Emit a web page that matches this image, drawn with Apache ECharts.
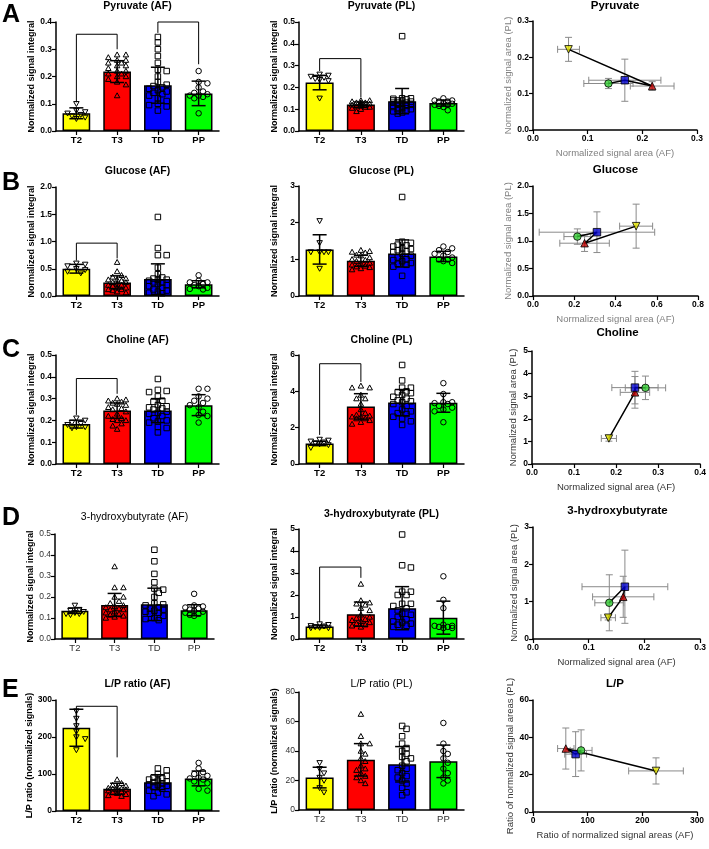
<!DOCTYPE html>
<html>
<head>
<meta charset="utf-8">
<script src="https://cdn.jsdelivr.net/npm/echarts@6/dist/echarts.min.js"></script>
<style>
html, body { margin: 0; padding: 0; background: #fff; }
#main { width: 709px; height: 849px; }
</style>
</head>
<body>
<div id="main"></div>
<script>
const groups = ['T2', 'T3', 'TD', 'PP'];
const barColors = ['#ffff00', '#ff0000', '#0000ff', '#00ff00'];
const markerColors = ['#e6e600', '#c00000', '#0000cc', '#33cc33'];

// Pyruvate
const pyruvateAF = [
    [0.10, 0.075, 0.07, 0.065, 0.06, 0.055, 0.05, 0.045],
    [0.28, 0.28, 0.27, 0.26, 0.26, 0.25, 0.25, 0.24, 0.24, 0.23, 0.22, 0.22, 0.21, 0.21, 0.20, 0.20, 0.19, 0.18, 0.17, 0.13],
    [0.345, 0.325, 0.30, 0.275, 0.25, 0.225, 0.22, 0.20, 0.18, 0.17, 0.165, 0.16, 0.155, 0.15, 0.145, 0.14, 0.135, 0.13, 0.12, 0.11, 0.10, 0.095, 0.09, 0.075],
    [0.22, 0.18, 0.175, 0.16, 0.145, 0.14, 0.135, 0.13, 0.13, 0.125, 0.12, 0.065]
];
const pyruvateAFMean = [0.065, 0.218, 0.168, 0.138];
const pyruvateAFSd = [0.02, 0.04, 0.066, 0.045];
const pyruvateAFBrackets = [[0, 1, 0.355, 0.105, 0.30], [2, 3, 0.40, 0.36, 0.245]];

const pyruvatePL = [
    [0.26, 0.255, 0.25, 0.245, 0.24, 0.235, 0.23, 0.15],
    [0.14, 0.14, 0.135, 0.13, 0.13, 0.125, 0.125, 0.12, 0.12, 0.115, 0.115, 0.11, 0.11, 0.105, 0.10, 0.09, 0.12, 0.13],
    [0.435, 0.15, 0.15, 0.148, 0.145, 0.14, 0.14, 0.135, 0.13, 0.13, 0.125, 0.12, 0.12, 0.115, 0.11, 0.105, 0.10, 0.10, 0.095, 0.09, 0.085, 0.08, 0.13, 0.14],
    [0.15, 0.14, 0.14, 0.135, 0.135, 0.13, 0.125, 0.12, 0.12, 0.115, 0.11, 0.095]
];
const pyruvatePLMean = [0.222, 0.121, 0.137, 0.128];
const pyruvatePLSd = [0.033, 0.012, 0.058, 0.014];
const pyruvatePLBrackets = [[0, 1, 0.332, 0.275, 0.155]];

// Glucose
const glucoseAF = [
    [0.60, 0.58, 0.55, 0.50, 0.48, 0.45, 0.42],
    [0.62, 0.45, 0.38, 0.35, 0.32, 0.30, 0.30, 0.28, 0.25, 0.25, 0.22, 0.20, 0.20, 0.18, 0.15, 0.15, 0.12, 0.12, 0.10, 0.08, 0.06],
    [1.45, 0.88, 0.75, 0.75, 0.52, 0.40, 0.34, 0.32, 0.30, 0.30, 0.28, 0.25, 0.25, 0.22, 0.20, 0.18, 0.15, 0.12, 0.10, 0.08, 0.06, 0.05],
    [0.38, 0.28, 0.25, 0.25, 0.22, 0.20, 0.18, 0.15, 0.13, 0.12]
];
const glucoseAFMean = [0.50, 0.25, 0.31, 0.215];
const glucoseAFSd = [0.08, 0.12, 0.28, 0.065];
const glucoseAFBrackets = [[0, 1, 0.97, 0.65, 0.69]];

const glucosePL = [
    [2.05, 1.45, 1.20, 1.20, 1.20, 1.20, 0.75],
    [1.25, 1.22, 1.20, 1.18, 1.12, 1.10, 1.05, 1.00, 0.98, 0.95, 0.90, 0.88, 0.85, 0.82, 0.80, 0.78, 0.75, 0.72],
    [2.70, 1.48, 1.45, 1.40, 1.38, 1.35, 1.30, 1.28, 1.25, 1.22, 1.20, 1.15, 1.10, 1.05, 1.00, 0.98, 0.95, 0.90, 0.88, 0.85, 0.80, 0.55],
    [1.35, 1.30, 1.25, 1.20, 1.15, 1.10, 1.05, 1.00, 1.00, 0.95, 0.90]
];
const glucosePLMean = [1.27, 0.96, 1.16, 1.08];
const glucosePLSd = [0.40, 0.15, 0.37, 0.14];

// Choline
const cholineAF = [
    [0.21, 0.20, 0.19, 0.185, 0.18, 0.17, 0.17, 0.165],
    [0.30, 0.295, 0.29, 0.285, 0.28, 0.275, 0.27, 0.26, 0.255, 0.25, 0.24, 0.23, 0.22, 0.21, 0.205, 0.20, 0.20, 0.185, 0.175, 0.16],
    [0.39, 0.34, 0.335, 0.33, 0.31, 0.29, 0.285, 0.27, 0.265, 0.26, 0.255, 0.25, 0.24, 0.235, 0.23, 0.22, 0.21, 0.20, 0.195, 0.19, 0.17, 0.165, 0.145],
    [0.345, 0.345, 0.31, 0.30, 0.29, 0.28, 0.27, 0.26, 0.24, 0.225, 0.22, 0.19]
];
const cholineAFMean = [0.183, 0.245, 0.245, 0.27];
const cholineAFSd = [0.018, 0.035, 0.055, 0.048];
const cholineAFBrackets = [[0, 1, 0.392, 0.225, 0.322]];

const cholinePL = [
    [1.35, 1.30, 1.25, 1.20, 1.15, 1.10, 1.05, 0.90],
    [4.30, 4.20, 4.20, 3.80, 3.60, 3.60, 3.30, 3.00, 2.80, 2.70, 2.65, 2.60, 2.60, 2.50, 2.50, 2.40, 2.30, 2.20],
    [5.45, 4.60, 4.20, 4.20, 4.00, 3.95, 3.90, 3.80, 3.70, 3.60, 3.50, 3.45, 3.40, 3.30, 3.20, 3.00, 2.90, 2.80, 2.75, 2.60, 2.50, 2.35, 2.15],
    [4.45, 3.85, 3.40, 3.40, 3.35, 3.30, 3.20, 3.10, 3.00, 2.90, 2.30]
];
const cholinePLMean = [1.13, 3.17, 3.38, 3.37];
const cholinePLSd = [0.12, 0.70, 0.72, 0.52];
const cholinePLBrackets = [[0, 1, 5.52, 1.6, 4.52]];

// 3-hydroxybutyrate
const hbAF = [
    [0.16, 0.14, 0.135, 0.13, 0.125, 0.12, 0.12, 0.115],
    [0.345, 0.245, 0.245, 0.20, 0.20, 0.18, 0.17, 0.16, 0.155, 0.15, 0.145, 0.14, 0.14, 0.13, 0.125, 0.12, 0.115, 0.11, 0.105, 0.10],
    [0.425, 0.37, 0.31, 0.27, 0.24, 0.235, 0.22, 0.20, 0.17, 0.165, 0.16, 0.15, 0.145, 0.14, 0.135, 0.13, 0.125, 0.12, 0.11, 0.10, 0.095, 0.09],
    [0.215, 0.16, 0.155, 0.15, 0.145, 0.14, 0.135, 0.13, 0.125, 0.12, 0.115, 0.11]
];
const hbAFMean = [0.135, 0.162, 0.165, 0.137];
const hbAFSd = [0.013, 0.055, 0.077, 0.026];

const hbPL = [
    [0.68, 0.65, 0.60, 0.58, 0.55, 0.52, 0.50, 0.50],
    [2.50, 1.75, 1.65, 1.60, 1.55, 1.40, 1.30, 1.10, 1.00, 0.95, 0.90, 0.85, 0.80, 0.75, 0.70, 0.65, 0.60, 0.55],
    [4.75, 3.35, 3.25, 2.15, 2.15, 2.00, 2.00, 1.60, 1.60, 1.50, 1.40, 1.30, 1.15, 1.10, 1.00, 0.90, 0.80, 0.75, 0.70, 0.65, 0.60, 0.55],
    [2.85, 1.78, 1.40, 0.65, 0.60, 0.60, 0.55, 0.55, 0.50, 0.50]
];
const hbPLMean = [0.57, 1.13, 1.40, 0.97];
const hbPLSd = [0.06, 0.55, 0.98, 0.75];
const hbPLBrackets = [[0, 1, 3.27, 0.77, 2.78]];

// L/P ratio
const lpAF = [
    [270, 250, 230, 215, 200, 195, 165],
    [85, 75, 70, 68, 65, 62, 60, 60, 58, 58, 55, 52, 50, 48, 45, 42, 40],
    [115, 110, 100, 95, 90, 88, 85, 82, 80, 78, 75, 72, 70, 68, 65, 60, 55, 50, 45, 40],
    [130, 115, 105, 100, 95, 90, 88, 85, 80, 75, 60, 55]
];
const lpAFMean = [225, 60, 78, 88];
const lpAFSd = [50, 15, 20, 20];
const lpAFBrackets = [[0, 1, 283, 276, 145]];

const lpPL = [
    [32, 28, 25, 22, 20, 15, 12],
    [65, 50, 45, 45, 40, 38, 35, 33, 30, 28, 27, 25, 23, 22, 20, 18],
    [57, 55, 50, 45, 42, 40, 38, 36, 35, 33, 30, 28, 27, 25, 23, 22, 20, 18, 15, 12, 10],
    [59, 45, 40, 38, 35, 32, 28, 25, 22, 20, 18]
];
const lpPLMean = [22, 34, 31, 33];
const lpPLSd = [7, 11, 12, 11];

const FONT = '"Liberation Sans", Arial, sans-serif';
const DOT = 5.5;

const chart = echarts.init(document.getElementById('main'));
const grids = [], xAxes = [], yAxes = [], series = [], graphics = [];

function symbolShape(kind, x, y, s, stroke, fill, lw) {
    const h = s / 2;
    const style = { fill: fill, stroke: stroke, lineWidth: lw };
    if (kind === 0) return { type: 'polygon', shape: { points: [[x - h, y - h * 0.8], [x + h, y - h * 0.8], [x, y + h]] }, style };
    if (kind === 1) return { type: 'polygon', shape: { points: [[x - h, y + h * 0.8], [x + h, y + h * 0.8], [x, y - h]] }, style };
    if (kind === 2) return { type: 'rect', shape: { x: x - h, y: y - h, width: s, height: s }, style };
    return { type: 'circle', shape: { cx: x, cy: y, r: h }, style };
}

// spread points sideways inside the bar, overlapping when there is no room
function swarm(ys, size, maxOff) {
    const step = size * 0.8;
    const cands = [0];
    for (let i = 1; i * step <= maxOff; i++) cands.push(i * step, -i * step);
    const placed = [];
    return ys.map(y => {
        let best = 0, bestScore = -1;
        for (const cand of cands) {
            let minD = Infinity;
            placed.forEach(p => {
                const d = Math.hypot(p[0] - cand, p[1] - y);
                if (d < minD) minD = d;
            });
            if (minD >= size * 0.95) { best = cand; break; }
            if (minD > bestScore) { bestScore = minD; best = cand; }
        }
        placed.push([best, y]);
        return best;
    });
}

function text(x, y, str, font, color) {
    graphics.push({
        type: 'text', x: x, y: y, silent: true,
        style: { text: str, font: font, fill: color || '#000', align: 'center', verticalAlign: 'middle' }
    });
}

function axisStyle(bold, color) {
    return {
        axisLine: { show: true, lineStyle: { color: '#000', width: 1.5 } },
        axisTick: { show: true, length: 4, lineStyle: { color: '#000', width: 1.2 } },
        splitLine: { show: false },
        axisLabel: { color: color, fontFamily: FONT, fontSize: 8.5, fontWeight: bold ? 'bold' : 'normal', margin: 4 }
    };
}

function barPanel(cfg) {
    const gi = grids.length;
    const [left, top, width, height] = cfg.pos;
    const bold = cfg.bold !== false;
    const labColor = bold ? '#000' : '#333';
    grids.push({ left: left, top: top, width: width, height: height });
    const xs = axisStyle(bold, labColor);
    xs.axisTick.alignWithLabel = true;
    xs.axisLabel.fontSize = 9.5;
    xAxes.push(Object.assign({ type: 'category', gridIndex: gi, data: groups }, xs));
    yAxes.push(Object.assign({
        type: 'value', gridIndex: gi, min: 0, max: cfg.max, interval: cfg.interval,
        name: cfg.yName, nameLocation: 'middle', nameGap: 20,
        nameTextStyle: { fontFamily: FONT, fontSize: 9, fontWeight: 'bold', color: '#000' }
    }, axisStyle(bold, labColor)));
    yAxes[gi].axisLabel.formatter = v => v.toFixed(cfg.dec);

    series.push({
        type: 'bar', xAxisIndex: gi, yAxisIndex: gi, silent: true, z: 1, barWidth: '68%',
        data: cfg.mean.map((v, i) => ({ value: v, itemStyle: { color: barColors[i] } })),
        itemStyle: { borderColor: '#000', borderWidth: 1.5 }
    });

    const pts = cfg.points;
    const dotData = [];
    pts.forEach((arr, c) => arr.forEach((v, k) => dotData.push([c, v, k])));
    series.push({
        type: 'custom', xAxisIndex: gi, yAxisIndex: gi, silent: true, z: 2, clip: false,
        data: dotData,
        renderItem: (params, api) => {
            const c = api.value(0), k = api.value(2);
            const ys = pts[c].map(v => api.coord([c, v])[1]);
            const offs = swarm(ys, DOT, 12);
            const p = api.coord([c, api.value(1)]);
            return symbolShape(c, p[0] + offs[k], p[1], DOT, '#000', 'rgba(0,0,0,0)', 1);
        }
    });

    series.push({
        type: 'custom', xAxisIndex: gi, yAxisIndex: gi, silent: true, z: 3, clip: false,
        data: cfg.mean.map((m, i) => [i, m, cfg.sd[i]]),
        renderItem: (params, api) => {
            const c = api.value(0), m = api.value(1), s = api.value(2);
            const t = api.coord([c, m + s]), b = api.coord([c, m - s]);
            const w = 7, st = { stroke: '#000', lineWidth: 1.5 };
            return {
                type: 'group', children: [
                    { type: 'line', shape: { x1: t[0], y1: t[1], x2: b[0], y2: b[1] }, style: st },
                    { type: 'line', shape: { x1: t[0] - w, y1: t[1], x2: t[0] + w, y2: t[1] }, style: st },
                    { type: 'line', shape: { x1: b[0] - w, y1: b[1], x2: b[0] + w, y2: b[1] }, style: st }
                ]
            };
        }
    });

    if (cfg.brackets) {
        series.push({
            type: 'custom', xAxisIndex: gi, yAxisIndex: gi, silent: true, z: 3, clip: false,
            data: cfg.brackets,
            renderItem: (params, api) => {
                const c1 = api.value(0), c2 = api.value(1), t = api.value(2);
                const a = api.coord([c1, api.value(3)]), b = api.coord([c1, t]);
                const c = api.coord([c2, t]), d = api.coord([c2, api.value(4)]);
                return { type: 'polyline', shape: { points: [a, b, c, d] }, style: { stroke: '#000', lineWidth: 1, fill: null } };
            }
        });
    }

    text(left + width / 2, cfg.titleY, cfg.title, (cfg.titleBold === false ? '' : 'bold ') + '10.5px ' + FONT);
}

function xyPanel(cfg) {
    const gi = grids.length;
    const [left, top, width, height] = cfg.pos;
    grids.push({ left: left, top: top, width: width, height: height });
    const nameStyle = { fontFamily: FONT, fontSize: 9.5, color: cfg.nameColor || '#808080' };
    xAxes.push(Object.assign({
        type: 'value', gridIndex: gi, min: 0, max: cfg.xMax, interval: cfg.xInt,
        name: cfg.xName, nameLocation: 'middle', nameGap: 18, nameTextStyle: nameStyle
    }, axisStyle(true, '#000')));
    xAxes[gi].axisLabel.formatter = v => v.toFixed(cfg.xDec);
    yAxes.push(Object.assign({
        type: 'value', gridIndex: gi, min: 0, max: cfg.yMax, interval: cfg.yInt,
        name: cfg.yName, nameLocation: 'middle', nameGap: 14, nameTextStyle: nameStyle
    }, axisStyle(true, '#000')));
    yAxes[gi].axisLabel.formatter = v => v.toFixed(cfg.yDec);

    const pts = groups.map((g, i) => [cfg.xMean[i], cfg.yMean[i], cfg.xSd[i], cfg.ySd[i]]);
    series.push({
        type: 'custom', xAxisIndex: gi, yAxisIndex: gi, silent: true, z: 2, clip: false,
        data: pts,
        renderItem: (params, api) => {
            const x = api.value(0), y = api.value(1), sx = api.value(2), sy = api.value(3);
            const l = api.coord([x - sx, y]), r = api.coord([x + sx, y]);
            const t = api.coord([x, y + sy]), b = api.coord([x, y - sy]);
            const w = 3.5, st = { stroke: '#8a8a8a', lineWidth: 1 };
            return {
                type: 'group', children: [
                    { type: 'line', shape: { x1: l[0], y1: l[1], x2: r[0], y2: r[1] }, style: st },
                    { type: 'line', shape: { x1: l[0], y1: l[1] - w, x2: l[0], y2: l[1] + w }, style: st },
                    { type: 'line', shape: { x1: r[0], y1: r[1] - w, x2: r[0], y2: r[1] + w }, style: st },
                    { type: 'line', shape: { x1: t[0], y1: t[1], x2: b[0], y2: b[1] }, style: st },
                    { type: 'line', shape: { x1: t[0] - w, y1: t[1], x2: t[0] + w, y2: t[1] }, style: st },
                    { type: 'line', shape: { x1: b[0] - w, y1: b[1], x2: b[0] + w, y2: b[1] }, style: st }
                ]
            };
        }
    });
    series.push({
        type: 'line', xAxisIndex: gi, yAxisIndex: gi, silent: true, z: 3, symbol: 'none',
        data: pts.map(p => [p[0], p[1]]),
        lineStyle: { color: '#000', width: 1.5 }
    });
    const syms = ['triangle', 'triangle', 'rect', 'circle'];
    series.push({
        type: 'scatter', xAxisIndex: gi, yAxisIndex: gi, silent: true, z: 4, symbolSize: 7.5,
        data: pts.map((p, i) => ({
            value: [p[0], p[1]], symbol: syms[i], symbolRotate: i === 0 ? 180 : 0,
            itemStyle: { color: markerColors[i], borderColor: '#000', borderWidth: 1 }
        }))
    });

    text(left + width / 2, cfg.titleY, cfg.title, 'bold 11.5px ' + FONT);
}

const yNameBar = 'Normalized signal integral';
const xNameXY = 'Normalized signal area (AF)';
const yNameXY = 'Normalized signal area (PL)';

// Row A
barPanel({ pos: [56, 22, 163, 109], title: 'Pyruvate (AF)', titleY: 6, yName: yNameBar, max: 0.4, interval: 0.1, dec: 1,
    points: pyruvateAF, mean: pyruvateAFMean, sd: pyruvateAFSd, brackets: pyruvateAFBrackets });
barPanel({ pos: [299, 22, 165, 109], title: 'Pyruvate (PL)', titleY: 6, yName: yNameBar, max: 0.5, interval: 0.1, dec: 1,
    points: pyruvatePL, mean: pyruvatePLMean, sd: pyruvatePLSd, brackets: pyruvatePLBrackets });
xyPanel({ pos: [533, 21, 164, 109], title: 'Pyruvate', titleY: 6, xName: xNameXY, yName: yNameXY,
    xMax: 0.3, xInt: 0.1, xDec: 1, yMax: 0.3, yInt: 0.1, yDec: 1,
    xMean: pyruvateAFMean, xSd: pyruvateAFSd, yMean: pyruvatePLMean, ySd: pyruvatePLSd });

// Row B
barPanel({ pos: [56, 187, 163, 109], title: 'Glucose (AF)', titleY: 171, yName: yNameBar, max: 2.0, interval: 0.5, dec: 1,
    points: glucoseAF, mean: glucoseAFMean, sd: glucoseAFSd, brackets: glucoseAFBrackets });
barPanel({ pos: [299, 186, 165, 110], title: 'Glucose (PL)', titleY: 171, yName: yNameBar, max: 3, interval: 1, dec: 0,
    points: glucosePL, mean: glucosePLMean, sd: glucosePLSd });
xyPanel({ pos: [533, 186, 165, 110], title: 'Glucose', titleY: 170, xName: xNameXY, yName: yNameXY,
    xMax: 0.8, xInt: 0.2, xDec: 1, yMax: 2.0, yInt: 0.5, yDec: 1,
    xMean: glucoseAFMean, xSd: glucoseAFSd, yMean: glucosePLMean, ySd: glucosePLSd });

// Row C
barPanel({ pos: [56, 355, 163, 109], title: 'Choline (AF)', titleY: 340, yName: yNameBar, max: 0.5, interval: 0.1, dec: 1,
    points: cholineAF, mean: cholineAFMean, sd: cholineAFSd, brackets: cholineAFBrackets });
barPanel({ pos: [299, 355, 165, 109], title: 'Choline (PL)', titleY: 340, yName: yNameBar, max: 6, interval: 2, dec: 0,
    points: cholinePL, mean: cholinePLMean, sd: cholinePLSd, brackets: cholinePLBrackets });
xyPanel({ pos: [532, 351, 171, 113], title: 'Choline', titleY: 333, xName: xNameXY, yName: yNameXY, nameColor: '#333',
    xMax: 0.4, xInt: 0.1, xDec: 1, yMax: 5, yInt: 1, yDec: 0,
    xMean: cholineAFMean, xSd: cholineAFSd, yMean: cholinePLMean, ySd: cholinePLSd });

// Row D
barPanel({ pos: [55, 534, 159, 105], title: '3-hydroxybutyrate (AF)', titleY: 517, yName: yNameBar, max: 0.5, interval: 0.1, dec: 1,
    bold: false, titleBold: false, points: hbAF, mean: hbAFMean, sd: hbAFSd });
barPanel({ pos: [299, 529, 165, 110], title: '3-hydroxybutyrate (PL)', titleY: 514, yName: yNameBar, max: 5, interval: 1, dec: 0,
    points: hbPL, mean: hbPLMean, sd: hbPLSd, brackets: hbPLBrackets });
xyPanel({ pos: [533, 527, 169, 112], title: '3-hydroxybutyrate', titleY: 511, xName: xNameXY, yName: yNameXY, nameColor: '#333',
    xMax: 0.3, xInt: 0.1, xDec: 1, yMax: 3, yInt: 1, yDec: 0,
    xMean: hbAFMean, xSd: hbAFSd, yMean: hbPLMean, ySd: hbPLSd });

// Row E
barPanel({ pos: [56, 700, 163, 111], title: 'L/P ratio (AF)', titleY: 684, yName: 'L/P ratio (normalized signals)', max: 300, interval: 100, dec: 0,
    points: lpAF, mean: lpAFMean, sd: lpAFSd, brackets: lpAFBrackets });
barPanel({ pos: [299, 692, 165, 118], title: 'L/P ratio (PL)', titleY: 684, yName: 'L/P ratio (normalized signals)', max: 80, interval: 20, dec: 0,
    bold: false, titleBold: false, points: lpPL, mean: lpPLMean, sd: lpPLSd });
xyPanel({ pos: [533, 700, 164, 112], title: 'L/P', titleY: 684, xName: 'Ratio of normalized signal areas (AF)', yName: 'Ratio of normalized signal areas (PL)', nameColor: '#333',
    xMax: 300, xInt: 100, xDec: 0, yMax: 60, yInt: 20, yDec: 0,
    xMean: lpAFMean, xSd: lpAFSd, yMean: lpPLMean, ySd: lpPLSd });

// panel letters
const letters = ['A', 'B', 'C', 'D', 'E'];
const letterY = [15, 183, 350, 518, 690];
letters.forEach((l, i) => graphics.push({
    type: 'text', x: 2, y: letterY[i], silent: true,
    style: { text: l, font: 'bold 25px ' + FONT, fill: '#000', align: 'left', verticalAlign: 'middle' }
}));

chart.setOption({
    animation: false,
    backgroundColor: '#fff',
    grid: grids,
    xAxis: xAxes,
    yAxis: yAxes,
    series: series,
    graphic: graphics
});
</script>
</body>
</html>
